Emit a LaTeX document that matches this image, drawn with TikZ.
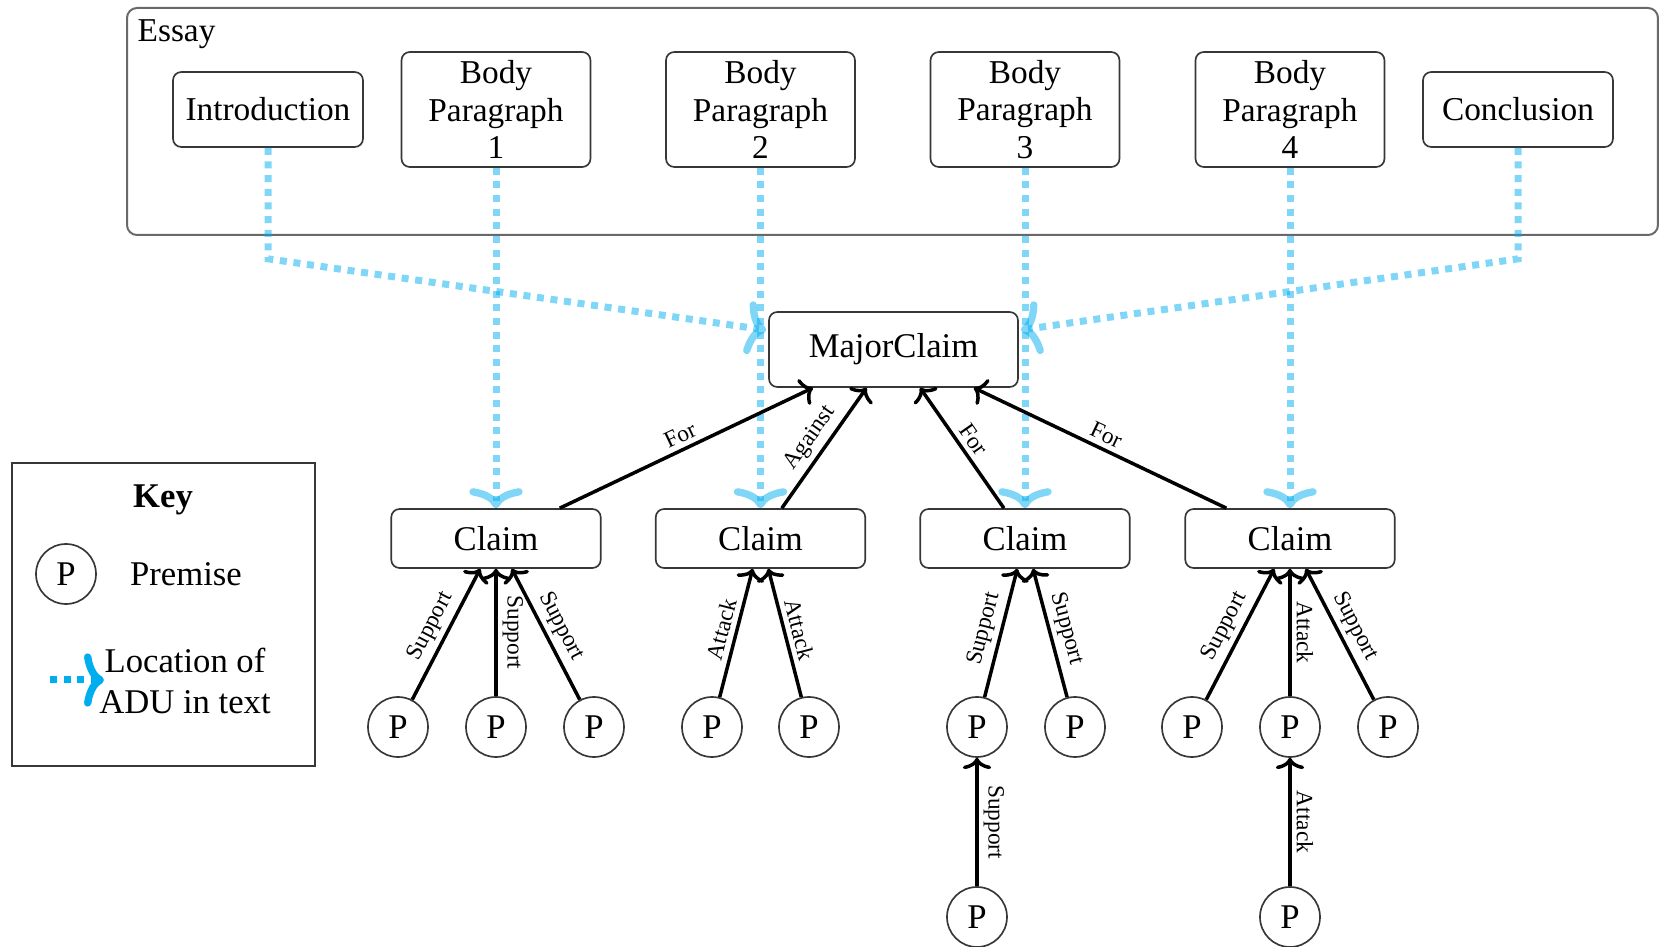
\documentclass[tikz,border=0pt]{standalone}
\usepackage{fontspec}
\setmainfont{Liberation Serif}
\usetikzlibrary{arrows.meta,calc}

\definecolor{adublue}{RGB}{0,174,239}
\definecolor{boxgray}{RGB}{55,55,55}
\definecolor{framegray}{RGB}{105,105,105}

\begin{document}
\begin{tikzpicture}[x=0.3pt,y=-0.3pt,
  every node/.style={font=\fontsize{10}{11.2}\selectfont},
  box/.style={draw=boxgray, line width=0.5pt, rounded corners=2.5pt, inner sep=0pt, align=center},
  topbox/.style={box, minimum width=57pt, minimum height=22.5pt},
  parabox/.style={box, minimum width=56.7pt, minimum height=34.5pt},
  majorbox/.style={box, minimum width=74.7pt, minimum height=22.5pt, font=\fontsize{10.4}{12}\selectfont},
  claimbox/.style={box, minimum width=62.85pt, minimum height=17.7pt, font=\fontsize{10.4}{12}\selectfont},
  premise/.style={circle, draw=boxgray, line width=0.5pt, minimum size=18pt, inner sep=0pt, font=\fontsize{10.4}{12}\selectfont},
  rel/.style={line width=1.05pt, -{To[length=3.4pt,width=8.5pt]}},
  lbl/.style={font=\fontsize{7}{8}\selectfont, midway, sloped, above, inner sep=1.5pt},
  vlbl/.style={font=\fontsize{7}{8}\selectfont, midway, rotate=-90, anchor=south, inner sep=1.5pt},
  loc/.style={draw=adublue, draw opacity=0.5, line width=2.1pt, dotted, -{To[length=6pt,width=16pt,line width=2.2pt,line cap=round]}},
]
\useasboundingbox (0,0) rectangle (1659,947);

% essay container with its sections
\node[draw=framegray, line width=0.6pt, rounded corners=3pt, minimum width=459.3pt, minimum height=68.1pt, inner sep=0pt] (essay) at (892.5,121.5) {};
\node[anchor=base west, inner sep=0pt] (essaylbl) at (137,42) {Essay};

\node[topbox]  (intro) at (268,109.5)  {Introduction};
\node[parabox] (bp1)   at (496,109.5)  {Body\\Paragraph\\1};
\node[parabox] (bp2)   at (760.5,109.5){Body\\Paragraph\\2};
\node[parabox] (bp3)   at (1025,109.5) {Body\\Paragraph\\3};
\node[parabox] (bp4)   at (1290,109.5) {Body\\Paragraph\\4};
\node[topbox]  (concl) at (1518,109.5) {Conclusion};

% argument structure
\node[majorbox] (major) at (893.5,349.5) {MajorClaim};

\node[claimbox] (c1) at (496,538.5)  {Claim};
\node[claimbox] (c2) at (760.5,538.5){Claim};
\node[claimbox] (c3) at (1025,538.5) {Claim};
\node[claimbox] (c4) at (1290,538.5) {Claim};

\node[premise] (p11) at (398,727)  {P};
\node[premise] (p12) at (496,727)  {P};
\node[premise] (p13) at (594,727)  {P};
\node[premise] (p21) at (712,727)  {P};
\node[premise] (p22) at (809,727)  {P};
\node[premise] (p31) at (977,727)  {P};
\node[premise] (p32) at (1075,727) {P};
\node[premise] (p33) at (977,917)  {P};
\node[premise] (p41) at (1192,727) {P};
\node[premise] (p42) at (1290,727) {P};
\node[premise] (p43) at (1388,727) {P};
\node[premise] (p44) at (1290,917) {P};

% locations of the ADUs in the essay
\draw[loc] (intro.south) -- ++(0,111) -- ($(major.west)+(-2,-19.5)$);
\draw[loc] (concl.south) -- ++(0,111) -- ($(major.east)+(2,-19.5)$);
\draw[loc] (bp1) -- (c1);
\draw[loc] (bp2) -- (c2);
\draw[loc] (bp3) -- (c3);
\draw[loc] (bp4) -- (c4);

% claims towards the major claim
\draw[rel] (c1) -- node[lbl] {For} (major);
\draw[rel] (c2) -- node[lbl] {Against} (major);
\draw[rel] (c3) -- node[lbl] {For} (major);
\draw[rel] (c4) -- node[lbl] {For} (major);

% premises towards claims
\draw[rel] (p11) -- node[lbl]  {Support} (c1);
\draw[rel] (p12) -- node[vlbl] {Support} (c1);
\draw[rel] (p13) -- node[lbl]  {Support} (c1);
\draw[rel] (p21) -- node[lbl]  {Attack} (c2);
\draw[rel] (p22) -- node[lbl]  {Attack} (c2);
\draw[rel] (p31) -- node[lbl]  {Support} (c3);
\draw[rel] (p32) -- node[lbl]  {Support} (c3);
\draw[rel] (p33) -- node[vlbl] {Support} (p31);
\draw[rel] (p41) -- node[lbl]  {Support} (c4);
\draw[rel] (p42) -- node[vlbl] {Attack} (c4);
\draw[rel] (p43) -- node[lbl]  {Support} (c4);
\draw[rel] (p44) -- node[vlbl] {Attack} (p42);

% key
\node[draw=boxgray, line width=0.5pt, minimum size=90.9pt, inner sep=0pt] (key) at (163.5,614.5) {};
\node[font=\fontsize{10.4}{12}\selectfont\bfseries] (keytitle) at (163,500) {Key};
\node[premise] (keyp) at (66,574) {P};
\node[font=\fontsize{10.4}{12}\selectfont] (keyptxt) at (186,574) {Premise};
\coordinate (keya) at (50,680);
\coordinate (keyb) at (104,680);
\draw[loc, draw opacity=1] (keya) -- (keyb);
\node[font=\fontsize{10.4}{12.5}\selectfont, align=center] (keyltxt) at (185,681) {Location of\\ADU in text};
\end{tikzpicture}
\end{document}
